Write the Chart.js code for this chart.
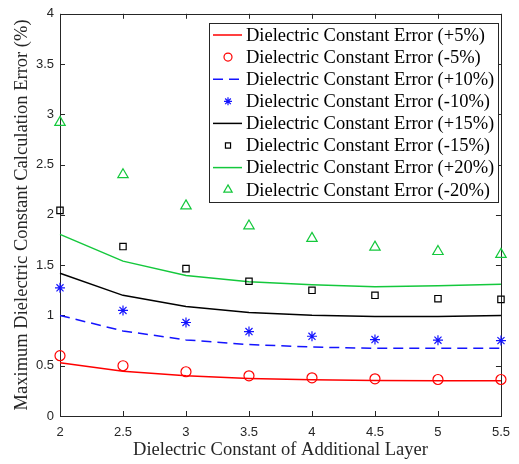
<!DOCTYPE html>
<html><head><meta charset="utf-8">
<script src="https://cdn.jsdelivr.net/npm/chart.js@4/dist/chart.umd.min.js"></script>
<style>html,body{margin:0;padding:0;background:#fff}#wrap{width:519px;height:464px}</style>
</head><body><div id="wrap"><canvas id="c" width="519" height="464"></canvas></div>
<script>
const xValues = [2, 2.5, 3, 3.5, 4, 4.5, 5, 5.5];
const xTicks = [2, 2.5, 3, 3.5, 4, 4.5, 5, 5.5];
const yTicks = [0, 0.5, 1, 1.5, 2, 2.5, 3, 3.5, 4];
const plus5  = [0.53, 0.446, 0.40, 0.374, 0.36, 0.353, 0.35, 0.35];
const minus5 = [0.60, 0.50, 0.44, 0.40, 0.38, 0.37, 0.363, 0.363];
const plus10 = [1.00, 0.846, 0.757, 0.71, 0.686, 0.673, 0.673, 0.673];
const minus10 = [1.275, 1.05, 0.93, 0.84, 0.793, 0.76, 0.754, 0.75];
const plus15 = [1.42, 1.20, 1.09, 1.03, 1.003, 0.99, 0.99, 1.00];
const minus15 = [2.045, 1.685, 1.466, 1.34, 1.25, 1.20, 1.167, 1.16];
const plus20 = [1.806, 1.54, 1.397, 1.334, 1.305, 1.285, 1.295, 1.31];
const minus20 = [2.92, 2.40, 2.09, 1.89, 1.767, 1.68, 1.636, 1.607];
const labels = ['Dielectric Constant Error (+5%)','Dielectric Constant Error (-5%)','Dielectric Constant Error (+10%)','Dielectric Constant Error (-10%)','Dielectric Constant Error (+15%)','Dielectric Constant Error (-15%)','Dielectric Constant Error (+20%)','Dielectric Constant Error (-20%)'];
const xTitle = 'Dielectric Constant of Additional Layer';
const yTitle = 'Maximum Dielectric Constant Calculation Error (%)';

const RED='#ff0000', BLUE='#1414ff', BLACK='#000000', GREEN='#14c83c';
const pts = a => a.map((v,i)=>({x:xValues[i], y:v}));
function lineDs(label, data, color, dash){
  return {label, data:pts(data), borderColor:color, backgroundColor:color, borderWidth:1.5, borderDash:dash||[], pointRadius:0, showLine:true, fill:false, tension:0, clip:false, kind:'line'};
}
function markDs(label, data, color, style, r){
  return {label, data:pts(data), borderColor:color, backgroundColor:'rgba(0,0,0,0)', borderWidth:1.2, pointStyle:style, pointRadius:r, showLine:false, clip:false, kind:'mark'};
}
const datasets = [
  lineDs(labels[0], plus5, RED),
  markDs(labels[1], minus5, RED, 'circle', 5),
  lineDs(labels[2], plus10, BLUE, [10,6]),
  markDs(labels[3], minus10, BLUE, 'star', 5),
  lineDs(labels[4], plus15, BLACK),
  markDs(labels[5], minus15, BLACK, 'rect', 4.5),
  lineDs(labels[6], plus20, GREEN),
  markDs(labels[7], minus20, GREEN, 'triangle', 6),
];

const framePlugin = {
  id:'frame',
  beforeDatasetsDraw(chart){
    const {ctx, chartArea:a, scales:{x,y}} = chart;
    ctx.save();
    ctx.strokeStyle='#262626'; ctx.lineWidth=1;
    ctx.strokeRect(Math.round(a.left)+0.5, Math.round(a.top)+0.5, Math.round(a.right-a.left), Math.round(a.bottom-a.top));
    ctx.beginPath();
    const tl=5;
    xTicks.forEach(v=>{const px=Math.round(x.getPixelForValue(v))+0.5;
      ctx.moveTo(px,a.bottom); ctx.lineTo(px,a.bottom-tl);
      ctx.moveTo(px,a.top); ctx.lineTo(px,a.top+tl);});
    yTicks.forEach(v=>{const py=Math.round(y.getPixelForValue(v))+0.5;
      ctx.moveTo(a.left,py); ctx.lineTo(a.left+tl,py);
      ctx.moveTo(a.right,py); ctx.lineTo(a.right-tl,py);});
    ctx.stroke();
    ctx.restore();
  },
  afterDatasetsDraw(chart){
    const {ctx} = chart;
    ctx.save();
    const bx=209.5, by=23.5, bw=289, bh=179;
    ctx.fillStyle='#fff'; ctx.fillRect(bx,by,bw,bh);
    ctx.strokeStyle='#262626'; ctx.lineWidth=1; ctx.strokeRect(bx,by,bw,bh);
    ctx.font='18.5px "Liberation Serif", "Times New Roman", serif';
    ctx.textBaseline='middle'; ctx.textAlign='left';
    chart.data.datasets.forEach((ds,i)=>{
      const cy=35+i*22.1;
      if(ds.kind==='line'){
        ctx.save(); ctx.strokeStyle=ds.borderColor; ctx.lineWidth=1.5; ctx.setLineDash(ds.borderDash);
        ctx.beginPath(); ctx.moveTo(213,cy); ctx.lineTo(242,cy); ctx.stroke(); ctx.restore();
      } else {
        ctx.save(); ctx.strokeStyle=ds.borderColor; ctx.fillStyle='rgba(0,0,0,0)'; ctx.lineWidth=1.2;
        Chart.helpers.drawPoint(ctx,{pointStyle:ds.pointStyle, radius:ds.pointRadius*0.8, rotation:0, borderWidth:1.2}, 228, cy);
        ctx.restore();
      }
      ctx.fillStyle='#000';
      ctx.fillText(ds.label, 246, cy+1);
    });
    ctx.restore();
  }
};

const tickFont = {family:'"Liberation Sans", Arial, sans-serif', size:13};
const titleFont = {family:'"Liberation Serif", "Times New Roman", serif', size:18.5};
new Chart(document.getElementById('c'), {
  type:'scatter',
  data:{datasets},
  options:{
    responsive:false, animation:false, devicePixelRatio:1,
    layout:{padding:{top:10, right:8, left:0, bottom:0}},
    plugins:{legend:{display:false}, tooltip:{enabled:false}},
    scales:{
      x:{type:'linear', min:2, max:5.5,
        afterFit(s){s.height=48;},
        afterBuildTicks(s){s.ticks=xTicks.map(v=>({value:v}));},
        grid:{display:false, drawTicks:false}, border:{display:false},
        ticks:{padding:9, color:'#262626', font:tickFont, callback:v=>String(v)},
        title:{display:true, text:xTitle, color:'#262626', padding:{top:0,bottom:3}, font:titleFont}
      },
      y:{type:'linear', min:0, max:4,
        afterFit(s){s.width=60;},
        afterBuildTicks(s){s.ticks=yTicks.map(v=>({value:v}));},
        grid:{display:false, drawTicks:false}, border:{display:false},
        ticks:{padding:6, color:'#262626', font:tickFont, callback:v=>String(v)},
        title:{display:true, text:yTitle, color:'#262626', padding:{top:11,bottom:0}, font:titleFont}
      }
    }
  },
  plugins:[framePlugin]
});
</script></body></html>
